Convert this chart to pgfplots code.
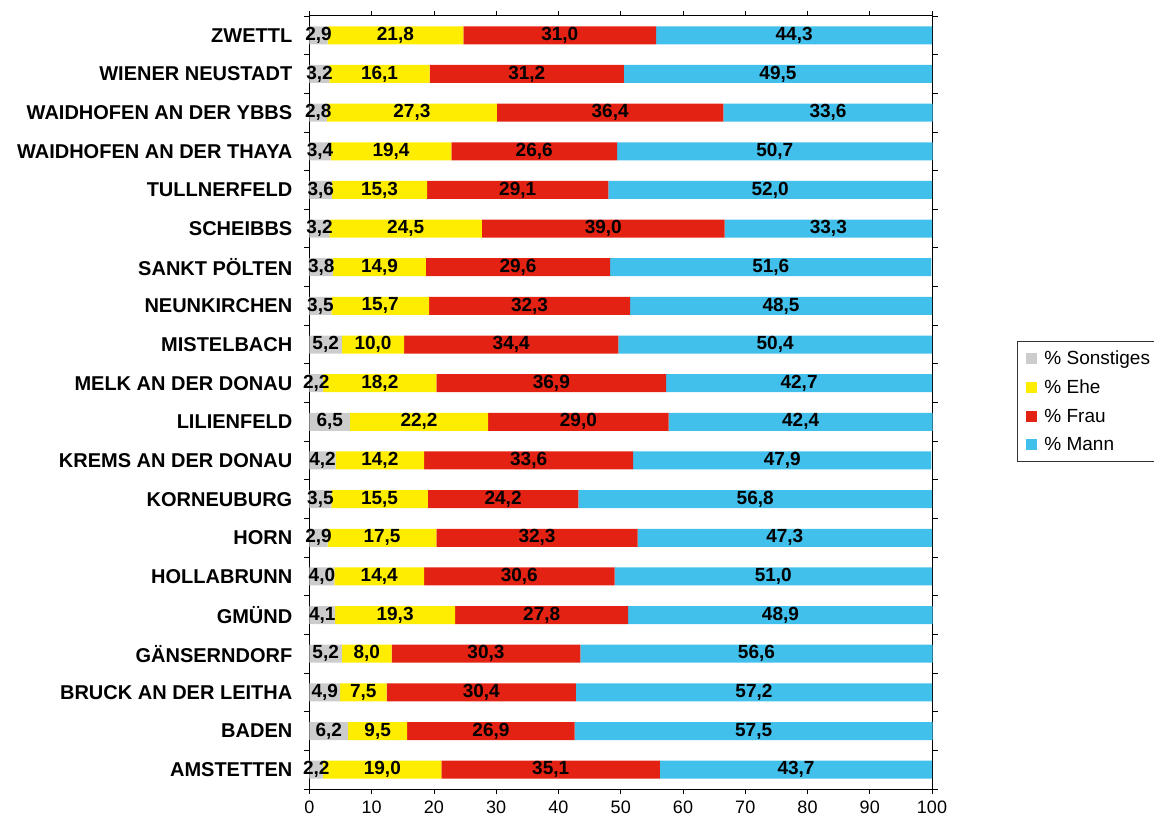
\documentclass[border=0pt]{standalone}
\usepackage{fontspec}
\setmainfont{Liberation Sans}
\usepackage{pgfplots}
\usepackage{pgfplotstable}
\pgfplotsset{compat=1.18}
\definecolor{cSon}{HTML}{CCCCCC}
\definecolor{cEhe}{HTML}{FFED00}
\definecolor{cFrau}{HTML}{E32213}
\definecolor{cMann}{HTML}{42C0EC}
\newcommand\fs{\fontsize{18}{21}\selectfont}
\newcommand\fl{\fontsize{20}{23}\selectfont}
\newcommand\fv{\fontsize{19}{22}\selectfont}
\newcommand\fg{\fontsize{19}{22}\selectfont}
\pgfplotstableread{
idx S E F M
0 2.2 19.0 35.1 43.7
1 6.2 9.5 26.9 57.5
2 4.9 7.5 30.4 57.2
3 5.2 8.0 30.3 56.6
4 4.1 19.3 27.8 48.9
5 4.0 14.4 30.6 51.0
6 2.9 17.5 32.3 47.3
7 3.5 15.5 24.2 56.8
8 4.2 14.2 33.6 47.9
9 6.5 22.2 29.0 42.4
10 2.2 18.2 36.9 42.7
11 5.2 10.0 34.4 50.4
12 3.5 15.7 32.3 48.5
13 3.8 14.9 29.6 51.6
14 3.2 24.5 39.0 33.3
15 3.6 15.3 29.1 52.0
16 3.4 19.4 26.6 50.7
17 2.8 27.3 36.4 33.6
18 3.2 16.1 31.2 49.5
19 2.9 21.8 31.0 44.3
}\data
\pgfplotstablecreatecol[create col/expr={\thisrow{S}/2}]{pS}\data
\pgfplotstablecreatecol[create col/expr={\thisrow{S}+\thisrow{E}/2}]{pE}\data
\pgfplotstablecreatecol[create col/expr={\thisrow{S}+\thisrow{E}+\thisrow{F}/2}]{pF}\data
\pgfplotstablecreatecol[create col/expr={\thisrow{S}+\thisrow{E}+\thisrow{F}+\thisrow{M}/2}]{pM}\data
\pgfplotsset{
  frame/.style={at={(309.5pt,34pt)}, anchor=south west,
    scale only axis, width=622.5pt, height=773pt,
    xmin=0, xmax=100, ymin=-0.5, ymax=19.5, clip=false},
  lbl/.style={only marks, mark=none, point meta=explicit,
    nodes near coords,
    every node near coord/.append style={anchor=center, font=\fv\bfseries, inner sep=0pt, text=black,
      /pgf/number format/fixed, /pgf/number format/fixed zerofill,
      /pgf/number format/precision=1, /pgf/number format/use comma,
      /pgf/number format/assume math mode=true}},
}
\begin{document}
\begin{tikzpicture}
\useasboundingbox (0,0) rectangle (1154pt,823pt);
\begin{axis}[
  frame,
  xbar stacked, bar width=18pt,
  xtick={0,10,...,100},
  ytick={0,...,19},
  yticklabels={AMSTETTEN,BADEN,BRUCK AN DER LEITHA,GÄNSERNDORF,GMÜND,HOLLABRUNN,HORN,KORNEUBURG,KREMS AN DER DONAU,LILIENFELD,MELK AN DER DONAU,MISTELBACH,NEUNKIRCHEN,SANKT PÖLTEN,SCHEIBBS,TULLNERFELD,WAIDHOFEN AN DER THAYA,WAIDHOFEN AN DER YBBS,WIENER NEUSTADT,ZWETTL},
  minor ytick={-0.5,0.5,...,19.5},
  major y tick style={draw=none},
  minor y tick style={black, line width=0.8pt},
  x tick style={black, line width=0.8pt},
  tick align=outside,
  major tick length=5pt, minor tick length=6pt,
  axis line style={black, line width=1pt},
  xticklabel style={font=\fs, inner sep=0pt, yshift=-7pt},
  yticklabel style={font=\fl\bfseries, inner sep=0pt, xshift=-12pt},
  /pgf/number format/assume math mode=true,
  legend style={at={(1.1366,0.5796)}, anchor=north west, draw=black!80, line width=0.8pt,
    font=\fg, row sep=10pt, inner xsep=9pt, inner ysep=7pt,
    /tikz/every odd column/.append style={column sep=5pt}},
  legend cell align=left,
  legend image code/.code={\fill[#1,draw=none] (0pt,-5.5pt) rectangle (11pt,5.5pt);},
]
\addplot[fill=cSon, draw=none] table[x=S, y=idx]{\data};
\addplot[fill=cEhe, draw=none] table[x=E, y=idx]{\data};
\addplot[fill=cFrau, draw=none] table[x=F, y=idx]{\data};
\addplot[fill=cMann, draw=none] table[x=M, y=idx]{\data};
\legend{\% Sonstiges,\% Ehe,\% Frau,\% Mann}
\end{axis}
\begin{axis}[frame, hide axis]
\addplot[lbl] table[x=pS, y=idx, meta=S]{\data};
\addplot[lbl] table[x=pE, y=idx, meta=E]{\data};
\addplot[lbl] table[x=pF, y=idx, meta=F]{\data};
\addplot[lbl] table[x=pM, y=idx, meta=M]{\data};
\end{axis}
\end{tikzpicture}
\end{document}
